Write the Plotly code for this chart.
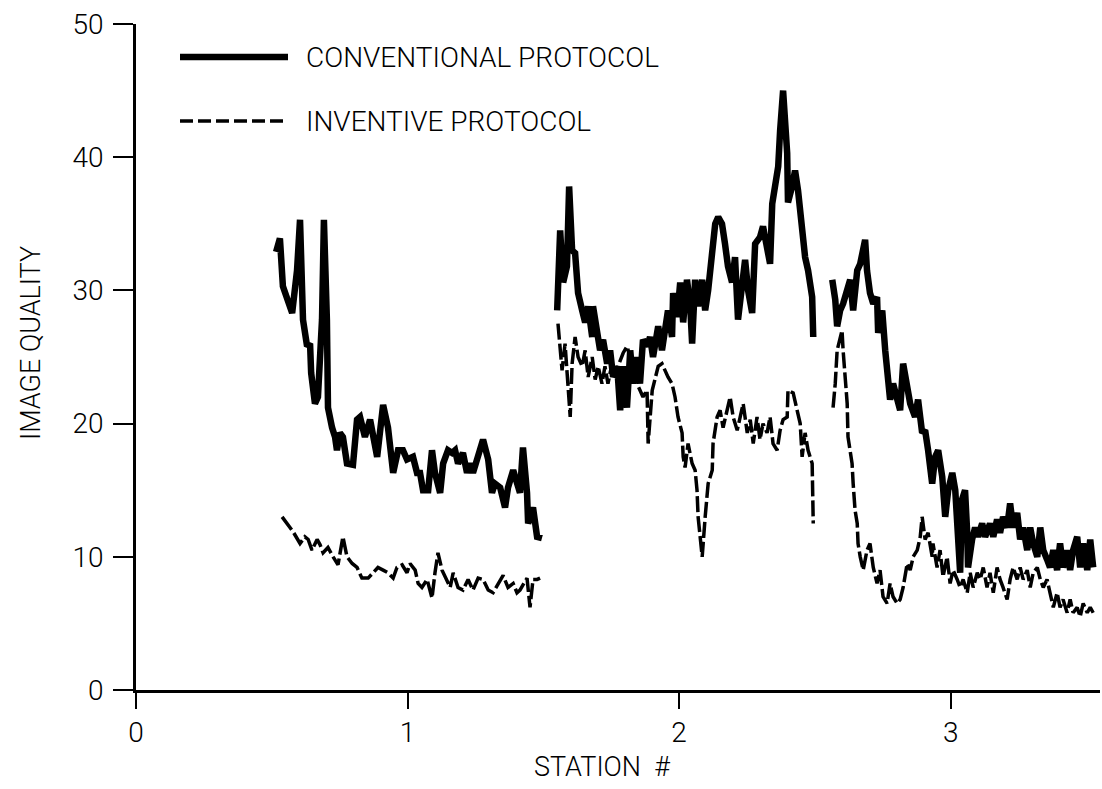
import plotly.graph_objects as go

# ---------------- data ----------------
conv_s1_x = [0.516, 0.530, 0.541, 0.556, 0.575, 0.593, 0.604, 0.615, 0.630, 0.641, 0.645, 0.659, 0.670,
             0.685, 0.692, 0.703, 0.707, 0.722, 0.733, 0.740, 0.751, 0.762, 0.777, 0.799, 0.814, 0.825,
             0.843, 0.862, 0.888, 0.910, 0.928, 0.947, 0.965, 0.983, 0.998, 1.020, 1.035, 1.046, 1.057,
             1.076, 1.090, 1.101, 1.120, 1.131, 1.149, 1.164, 1.175, 1.186, 1.204, 1.219, 1.230, 1.241,
             1.260, 1.278, 1.297, 1.311, 1.322, 1.341, 1.359, 1.370, 1.389, 1.403, 1.414, 1.425, 1.440,
             1.444, 1.462, 1.477, 1.495]
conv_s1_y = [32.9, 33.9, 30.3, 29.3, 28.3, 31.5, 35.3, 27.8, 25.8, 26.0, 23.8, 21.5, 22.0,
             27.8, 35.3, 27.8, 21.2, 19.7, 19.0, 18.0, 19.3, 19.0, 17.0, 16.9, 20.3, 20.5,
             19.0, 20.3, 17.5, 21.4, 19.7, 16.3, 18.0, 18.0, 17.3, 17.5, 16.3, 16.3, 15.0,
             15.0, 18.0, 16.3, 14.8, 17.0, 18.0, 17.8, 18.0, 17.0, 17.8, 16.3, 17.0, 16.3,
             17.5, 18.8, 17.3, 14.8, 15.5, 15.2, 13.7, 15.2, 16.5, 15.5, 14.8, 18.2, 14.8,
             12.5, 13.7, 11.5, 11.4]

conv_s2_x = [1.551, 1.554, 1.562, 1.573, 1.587, 1.595, 1.606, 1.617, 1.628, 1.643, 1.654, 1.665, 1.680,
             1.683, 1.698, 1.709, 1.720, 1.735, 1.746, 1.757, 1.772, 1.783, 1.794, 1.808, 1.820, 1.831,
             1.845, 1.856, 1.867, 1.882, 1.893, 1.904, 1.923, 1.937, 1.948, 1.959, 1.974, 1.978, 1.993,
             2.004, 2.015, 2.029, 2.041, 2.048, 2.059, 2.070, 2.085, 2.096, 2.107, 2.122, 2.133, 2.144,
             2.158, 2.169, 2.180, 2.195, 2.206, 2.217, 2.232, 2.243, 2.254, 2.269, 2.280, 2.298, 2.309,
             2.324, 2.335, 2.343, 2.354, 2.365, 2.372, 2.383, 2.398, 2.401, 2.416, 2.427, 2.438, 2.453,
             2.464, 2.475, 2.490, 2.494]
conv_s2_y = [28.5, 31.5, 34.5, 30.6, 31.8, 37.8, 33.0, 32.8, 29.8, 28.5, 27.6, 28.8, 26.5,
             28.8, 26.8, 25.5, 26.3, 24.5, 25.5, 23.5, 24.3, 21.0, 24.3, 21.2, 25.5, 23.0,
             25.0, 23.0, 26.3, 25.8, 26.5, 25.0, 27.3, 25.5, 27.0, 28.5, 26.5, 29.8, 28.0,
             30.6, 27.6, 30.8, 28.8, 26.0, 30.8, 28.8, 30.8, 28.5, 30.0, 33.0, 35.0, 35.5,
             35.0, 33.5, 31.8, 30.6, 32.5, 27.8, 30.6, 32.3, 30.0, 28.3, 33.5, 34.0, 34.8,
             33.0, 32.0, 36.5, 38.0, 39.3, 42.0, 45.0, 40.3, 36.6, 37.8, 39.0, 37.5, 34.5,
             32.5, 31.5, 29.5, 26.5]

conv_s3_x = [2.564, 2.575, 2.582, 2.593, 2.604, 2.619, 2.630, 2.641, 2.656, 2.667, 2.678, 2.685, 2.692,
             2.703, 2.715, 2.729, 2.733, 2.748, 2.759, 2.770, 2.777, 2.788, 2.803, 2.814, 2.825, 2.840,
             2.851, 2.869, 2.880, 2.895, 2.906, 2.917, 2.932, 2.943, 2.954, 2.969, 2.980, 2.991, 3.006,
             3.017, 3.028, 3.035, 3.042, 3.053, 3.061, 3.064, 3.079, 3.090, 3.101, 3.116, 3.127, 3.145,
             3.157, 3.171, 3.182, 3.193, 3.208, 3.219, 3.230, 3.245, 3.256, 3.267, 3.282, 3.293, 3.304,
             3.319, 3.330, 3.341, 3.355, 3.366, 3.378, 3.392, 3.403, 3.414, 3.429, 3.440, 3.451, 3.466,
             3.477, 3.488, 3.503, 3.514, 3.525]
conv_s3_y = [30.8, 29.3, 27.3, 28.5, 29.0, 30.0, 30.8, 28.5, 31.5, 32.0, 33.0, 33.8, 31.5,
             29.8, 29.0, 29.5, 26.8, 28.5, 25.5, 23.5, 21.8, 23.0, 22.0, 21.0, 24.5, 22.3,
             21.5, 20.5, 21.8, 19.3, 19.5, 18.0, 15.5, 17.5, 18.0, 16.0, 13.0, 15.0, 16.3,
             15.0, 11.8, 8.8, 14.3, 15.0, 11.8, 9.2, 11.3, 12.2, 11.5, 12.5, 11.5, 12.5,
             11.5, 12.8, 11.8, 13.0, 12.2, 14.0, 12.2, 13.3, 11.3, 12.2, 10.5, 12.2, 11.0,
             10.0, 12.2, 10.5, 9.8, 9.2, 10.5, 9.0, 11.0, 9.2, 10.5, 9.0, 10.5, 11.5,
             9.2, 11.0, 9.0, 11.3, 9.2]

inv_s1_x = [0.538, 0.556, 0.578, 0.604, 0.622, 0.634, 0.648, 0.667, 0.678, 0.689, 0.707, 0.726, 0.744,
            0.762, 0.777, 0.796, 0.814, 0.832, 0.855, 0.873, 0.891, 0.910, 0.928, 0.947, 0.961, 0.980,
            0.998, 1.009, 1.028, 1.039, 1.053, 1.072, 1.090, 1.101, 1.112, 1.127, 1.145, 1.157, 1.168,
            1.186, 1.204, 1.223, 1.241, 1.260, 1.278, 1.297, 1.315, 1.333, 1.352, 1.370, 1.389, 1.403,
            1.414, 1.440, 1.451, 1.462, 1.477, 1.488]
inv_s1_y = [13.0, 12.5, 11.9, 11.0, 11.5, 11.3, 10.5, 11.3, 10.9, 10.3, 10.7, 10.0, 9.4,
            11.5, 10.0, 9.5, 9.2, 8.4, 8.4, 8.8, 9.2, 9.0, 8.8, 8.4, 9.2, 9.4,
            8.8, 9.5, 9.0, 8.0, 7.7, 8.3, 6.9, 8.8, 10.3, 9.0, 8.3, 7.7, 8.8,
            7.7, 7.5, 8.3, 7.5, 8.4, 8.3, 7.5, 7.3, 8.0, 8.6, 7.7, 8.0, 7.3,
            7.5, 8.4, 6.2, 8.3, 8.3, 8.4]

inv_s2_x = [1.554, 1.562, 1.569, 1.580, 1.591, 1.599, 1.606, 1.617, 1.628, 1.643, 1.654, 1.665, 1.680,
            1.691, 1.702, 1.716, 1.727, 1.738, 1.753, 1.764, 1.775, 1.794, 1.808, 1.820, 1.831, 1.845,
            1.856, 1.867, 1.882, 1.886, 1.901, 1.912, 1.923, 1.937, 1.948, 1.959, 1.974, 1.985, 1.996,
            2.011, 2.015, 2.022, 2.033, 2.048, 2.059, 2.066, 2.070, 2.085, 2.096, 2.107, 2.122, 2.125,
            2.140, 2.151, 2.162, 2.177, 2.188, 2.199, 2.214, 2.225, 2.236, 2.251, 2.262, 2.273, 2.287,
            2.298, 2.309, 2.324, 2.335, 2.346, 2.361, 2.372, 2.383, 2.398, 2.401, 2.420, 2.435, 2.446,
            2.453, 2.464, 2.475, 2.490, 2.494]
inv_s2_y = [27.5, 25.5, 24.0, 26.0, 23.0, 20.5, 24.5, 26.5, 25.0, 24.3, 25.5, 23.5, 25.0,
            23.3, 24.3, 23.0, 24.3, 23.0, 24.5, 23.5, 24.3, 25.3, 25.8, 25.0, 24.0, 23.0,
            22.5, 22.0, 22.5, 18.5, 22.5, 23.5, 24.3, 24.5, 24.0, 23.5, 23.0, 22.0, 20.5,
            19.3, 17.5, 16.7, 18.5, 17.0, 16.5, 15.0, 13.0, 10.0, 13.0, 15.5, 16.5, 18.5,
            20.5, 21.0, 19.7, 21.0, 22.0, 20.5, 19.5, 20.5, 21.5, 19.3, 20.3, 18.5, 20.5,
            18.8, 20.0, 19.3, 20.5, 18.5, 18.0, 19.5, 20.3, 20.5, 22.5, 22.3, 21.0, 20.0,
            17.5, 19.3, 18.0, 17.0, 12.5]

inv_s3_x = [2.567, 2.575, 2.582, 2.593, 2.600, 2.604, 2.611, 2.619, 2.622, 2.630, 2.637, 2.641, 2.648,
            2.656, 2.659, 2.667, 2.678, 2.692, 2.703, 2.715, 2.729, 2.740, 2.751, 2.766, 2.777, 2.788,
            2.803, 2.814, 2.825, 2.840, 2.851, 2.862, 2.877, 2.888, 2.895, 2.906, 2.917, 2.932, 2.935,
            2.950, 2.961, 2.972, 2.987, 2.998, 3.009, 3.024, 3.035, 3.046, 3.061, 3.072, 3.083, 3.098,
            3.109, 3.120, 3.134, 3.145, 3.157, 3.171, 3.182, 3.193, 3.208, 3.219, 3.230, 3.245, 3.256,
            3.267, 3.282, 3.293, 3.304, 3.319, 3.330, 3.341, 3.355, 3.366, 3.378, 3.392, 3.403, 3.414,
            3.429, 3.440, 3.451, 3.466, 3.477, 3.488, 3.503, 3.514, 3.525]
inv_s3_y = [21.2, 23.0, 25.5, 26.5, 27.0, 25.5, 23.5, 21.5, 19.0, 18.0, 17.0, 15.5, 13.5,
            12.5, 11.0, 10.0, 9.0, 10.5, 11.0, 9.2, 8.0, 9.0, 7.0, 6.5, 8.0, 7.0,
            6.5, 6.8, 7.7, 9.5, 9.0, 10.0, 10.5, 11.5, 13.0, 11.3, 11.8, 10.0, 11.0,
            9.2, 10.5, 8.5, 10.0, 8.0, 9.0, 8.3, 7.7, 8.3, 7.3, 8.8, 7.7, 8.8,
            8.3, 9.2, 7.7, 8.8, 7.3, 9.2, 8.3, 7.7, 6.8, 8.3, 9.2, 8.3, 9.2,
            8.3, 9.0, 7.7, 8.8, 9.2, 8.3, 7.7, 8.3, 7.3, 6.2, 7.3, 6.2, 6.8,
            5.8, 6.8, 5.8, 6.2, 5.5, 6.5, 5.8, 6.2, 5.8]

x_ticks = [0, 1, 2, 3]
y_ticks = [0, 10, 20, 30, 40, 50]
series_names = ["CONVENTIONAL PROTOCOL", "INVENTIVE PROTOCOL"]
x_title = "STATION  #"
y_title = "IMAGE QUALITY"


def join(*segs):
    xs, ys = [], []
    for i, (sx, sy) in enumerate(segs):
        if i:
            xs.append(None)
            ys.append(None)
        xs += sx
        ys += sy
    return xs, ys


cx, cy = join((conv_s1_x, conv_s1_y), (conv_s2_x, conv_s2_y), (conv_s3_x, conv_s3_y))
ix, iy = join((inv_s1_x, inv_s1_y), (inv_s2_x, inv_s2_y), (inv_s3_x, inv_s3_y))

FONT = "Roboto, DejaVu Sans Condensed, sans-serif"
FW = 300

fig = go.Figure()
fig.add_trace(go.Scatter(x=cx, y=cy, mode="lines", name=series_names[0],
                         line=dict(color="black", width=6.5), connectgaps=False))
fig.add_trace(go.Scatter(x=ix, y=iy, mode="lines", name=series_names[1],
                         line=dict(color="black", width=3.5, dash="16px,4px"), connectgaps=False))

# plot area: x from px 136 to 1100, y from px 24 to 690
def px_x(p):
    return (p - 136) / 964.0

def px_y(p):
    return (690 - p) / 666.0

shapes = [
    dict(type="line", xref="paper", yref="paper", x0=px_x(180), x1=px_x(288), y0=px_y(57), y1=px_y(57),
         line=dict(color="black", width=6.5)),
    dict(type="line", xref="paper", yref="paper", x0=px_x(180), x1=px_x(288), y0=px_y(121), y1=px_y(121),
         line=dict(color="black", width=3.5, dash="13px,5px")),
]
annotations = [
    dict(xref="paper", yref="paper", x=px_x(304), y=px_y(57), text=series_names[0], showarrow=False,
         xanchor="left", yanchor="middle", font=dict(family=FONT, size=28, color="black", weight=FW)),
    dict(xref="paper", yref="paper", x=px_x(304), y=px_y(121), text=series_names[1], showarrow=False,
         xanchor="left", yanchor="middle", font=dict(family=FONT, size=28, color="black", weight=FW)),
    dict(xref="paper", yref="paper", x=px_x(31), y=px_y(343), text=y_title, showarrow=False,
         textangle=-90, xanchor="center", yanchor="middle",
         font=dict(family=FONT, size=27, color="black", weight=FW)),
    dict(xref="paper", yref="paper", x=px_x(602), y=px_y(767), text=x_title, showarrow=False,
         xanchor="center", yanchor="middle", font=dict(family=FONT, size=27, color="black", weight=FW)),
]

fig.update_layout(
    width=1102, height=789,
    margin=dict(l=136, r=2, t=24, b=99, autoexpand=False),
    paper_bgcolor="white", plot_bgcolor="white",
    showlegend=False,
    shapes=shapes, annotations=annotations,
    xaxis=dict(range=[0, 3.55], tickvals=x_ticks, ticktext=[str(v) for v in x_ticks],
               showgrid=False, zeroline=False, showline=True, linecolor="black", linewidth=2.5,
               ticks="outside", ticklen=16, tickwidth=2, tickcolor="black",
               ticklabelstandoff=0,
               tickfont=dict(family=FONT, size=28, color="black", weight=FW)),
    yaxis=dict(range=[0, 50], tickvals=y_ticks, ticktext=[str(v) for v in y_ticks],
               showgrid=False, zeroline=False, showline=True, linecolor="black", linewidth=2.5,
               ticks="outside", ticklen=20, tickwidth=2, tickcolor="black",
               ticklabelstandoff=4,
               tickfont=dict(family=FONT, size=28, color="black", weight=FW)),
)

fig.write_html("out.html", config={"displayModeBar": False},
               post_script="document.body.style.margin='0';document.body.style.overflow='hidden';")
